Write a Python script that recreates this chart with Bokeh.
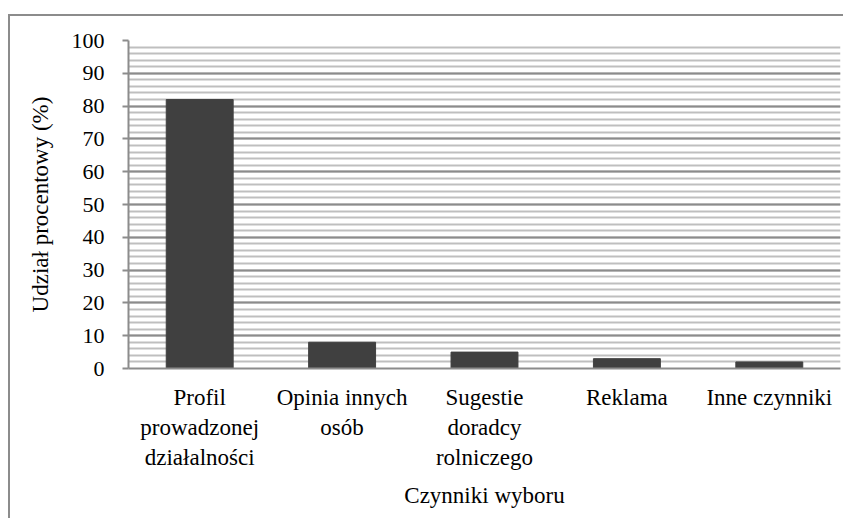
from bokeh.plotting import figure
from bokeh.embed import file_html
from bokeh.resources import INLINE
from bokeh.models import ColumnDataSource, SingleIntervalTicker

categories = ["Profil\nprowadzonej\ndziałalności", "Opinia innych\nosób",
              "Sugestie\ndoradcy\nrolniczego", "Reklama", "Inne czynniki"]
values = [82, 8, 5, 3, 2]
y_title = "Udział procentowy (%)"
x_title = "Czynniki wyboru"

FONT = "Liberation Serif"
src = ColumnDataSource(dict(cat=categories, val=values))

p = figure(x_range=categories, y_range=(0, 100), width=835, height=504,
           output_backend="svg", toolbar_location=None,
           min_border_left=118, min_border_right=5, min_border_top=24,
           min_border_bottom=152)
p.styles = {"border-top": "2px solid #8c8c8c", "border-left": "2px solid #8c8c8c",
            "margin-top": "14px", "margin-left": "8px"}
p.vbar(x="cat", top="val", width=0.47, source=src, color="#404040")

p.outline_line_color = None
p.xgrid.grid_line_color = None
p.yaxis.ticker = SingleIntervalTicker(interval=10, num_minor_ticks=5)
p.ygrid.grid_line_color = "#8c8c8c"
p.ygrid.grid_line_width = 2
p.ygrid.minor_grid_line_color = "#bfbfbf"
p.ygrid.minor_grid_line_width = 2

for ax in (p.xaxis, p.yaxis):
    ax.axis_line_color = "#8c8c8c"
    ax.axis_line_width = 2
    ax.major_label_text_font = FONT
    ax.major_label_text_font_size = "23px"
    ax.major_label_text_color = "#000000"
    ax.axis_label_text_font = FONT
    ax.axis_label_text_font_size = "23px"
    ax.axis_label_text_font_style = "normal"
    ax.axis_label_text_color = "#000000"

p.yaxis.major_label_text_font_size = "22px"
p.yaxis.minor_tick_line_color = None
p.yaxis.major_tick_line_color = "#8c8c8c"
p.yaxis.major_tick_line_width = 2
p.yaxis.major_tick_in = 0
p.yaxis.major_tick_out = 6
p.yaxis.major_label_standoff = 18
p.yaxis.axis_label = y_title
p.yaxis.axis_label_standoff = 16

p.xaxis.major_tick_line_color = None
p.xaxis.major_label_standoff = 10
p.xaxis.axis_label = x_title
p.xaxis.axis_label_standoff = 10

open("out.html", "w").write(file_html(p, INLINE))
